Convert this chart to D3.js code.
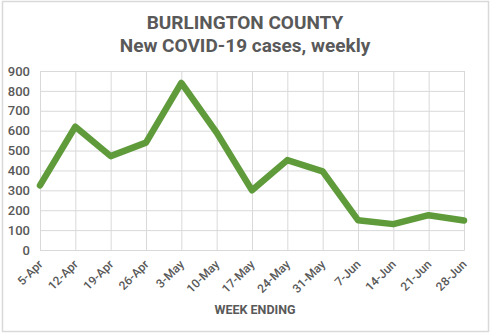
<!DOCTYPE html>
<html>
<head>
<meta charset="utf-8">
<script src="https://cdn.jsdelivr.net/npm/d3@7"></script>
<style>
  html, body { margin: 0; padding: 0; background: #fff; }
  svg { display: block; font-family: Roboto, "Liberation Sans", sans-serif; }
</style>
</head>
<body>
<svg id="chart" width="491" height="334"></svg>
<script>
// Weekly new COVID-19 cases, Burlington County
const weeks = ["5-Apr", "12-Apr", "19-Apr", "26-Apr", "3-May", "10-May", "17-May",
               "24-May", "31-May", "7-Jun", "14-Jun", "21-Jun", "28-Jun"];
const cases = [325, 620, 472, 540, 840, 590, 300, 452, 395, 150, 130, 175, 148];
const yTicks = [0, 100, 200, 300, 400, 500, 600, 700, 800, 900];
const titleLines = ["BURLINGTON COUNTY", "New COVID-19 cases, weekly"];
const xAxisTitle = "WEEK ENDING";

const svg = d3.select("#chart");
const W = 491, H = 334;
const plot = { left: 40, right: 464, top: 71, bottom: 250 };
const textColor = "#595959";
const gridColor = "#d9d9d9";

// chart border
svg.append("rect")
  .attr("x", 2.5).attr("y", 1.5)
  .attr("width", W - 5).attr("height", H - 4)
  .attr("fill", "#fff").attr("stroke", "#d9d9d9").attr("stroke-width", 1.5);

const x = d3.scalePoint().domain(weeks).range([plot.left, plot.right]);
const y = d3.scaleLinear().domain([0, 900]).range([plot.bottom, plot.top]);

// title
svg.append("g").selectAll("text").data(titleLines).join("text")
  .attr("x", 245).attr("y", (d, i) => 29 + i * 23)
  .attr("text-anchor", "middle")
  .attr("font-size", 19).attr("font-weight", "bold")
  .attr("fill", textColor)
  .text(d => d);

// horizontal gridlines + y labels
const yAxis = svg.append("g")
  .attr("transform", `translate(${plot.left},0)`)
  .call(d3.axisLeft(y).tickValues(yTicks).tickSize(-(plot.right - plot.left)).tickPadding(10));
yAxis.select(".domain").remove();
yAxis.selectAll(".tick line").attr("stroke", gridColor).attr("stroke-width", 1);
yAxis.selectAll(".tick text")
  .attr("fill", textColor).attr("font-size", 13).attr("font-weight", 500)
  .attr("font-family", "Roboto, sans-serif");

// vertical gridlines + rotated x labels
const xAxis = svg.append("g")
  .attr("transform", `translate(0,${plot.bottom})`)
  .call(d3.axisBottom(x).tickSize(-(plot.bottom - plot.top)).tickPadding(0));
xAxis.select(".domain").attr("stroke", gridColor);
xAxis.selectAll(".tick line").attr("stroke", gridColor).attr("stroke-width", 1);
xAxis.selectAll(".tick text")
  .attr("fill", textColor).attr("font-size", 12).attr("font-weight", 500)
  .attr("font-family", "Roboto, sans-serif")
  .attr("text-anchor", "end")
  .attr("dy", "0")
  .attr("transform", "translate(3,15) rotate(-45)");

// x axis title
svg.append("text")
  .attr("x", 255).attr("y", 314)
  .attr("text-anchor", "middle")
  .attr("font-size", 12.5).attr("font-weight", "bold")
  .attr("fill", textColor)
  .text(xAxisTitle);

// series line
const line = d3.line().x((d, i) => x(weeks[i])).y(d => y(d));
svg.append("path")
  .datum(cases)
  .attr("d", line)
  .attr("fill", "none")
  .attr("stroke", "#5f9b3b")
  .attr("stroke-width", 6.5)
  .attr("stroke-linejoin", "round")
  .attr("stroke-linecap", "round");
</script>
</body>
</html>
